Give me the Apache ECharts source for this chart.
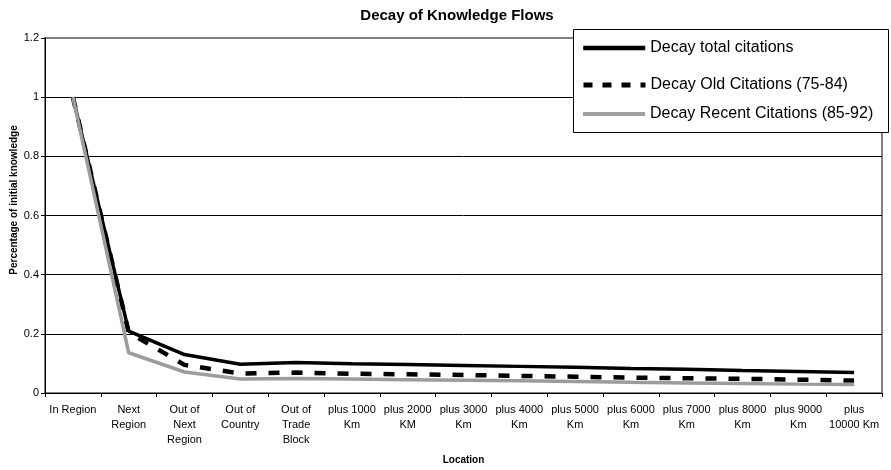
<!DOCTYPE html>
<html>
<head>
<meta charset="utf-8">
<script src="https://cdn.jsdelivr.net/npm/echarts@6/dist/echarts.min.js"></script>
<style>
html,body{margin:0;padding:0;background:#fff;}
#chart{width:891px;height:470px;}
</style>
</head>
<body>
<div id="chart"></div>
<script>
var categories = ["In Region", "Next\nRegion", "Out of\nNext\nRegion", "Out of\nCountry", "Out of\nTrade\nBlock",
  "plus 1000\nKm", "plus 2000\nKM", "plus 3000\nKm", "plus 4000\nKm", "plus 5000\nKm", "plus 6000\nKm",
  "plus 7000\nKm", "plus 8000\nKm", "plus 9000\nKm", "plus\n10000 Km"];
var totalCitations = [1, 0.209, 0.13, 0.097, 0.103, 0.099, 0.096, 0.093, 0.09, 0.087, 0.083, 0.08, 0.076, 0.073, 0.069];
var oldCitations = [1, 0.205, 0.095, 0.066, 0.069, 0.065, 0.063, 0.061, 0.058, 0.055, 0.052, 0.05, 0.048, 0.045, 0.042];
var recentCitations = [1, 0.136, 0.071, 0.047, 0.049, 0.047, 0.045, 0.043, 0.041, 0.039, 0.036, 0.034, 0.032, 0.03, 0.029];
var seriesNames = ["Decay total citations", "Decay Old Citations (75-84)", "Decay Recent Citations (85-92)"];
var yTicks = {min: 0, max: 1.2, interval: 0.2};

var FONT = "'Liberation Sans', Arial, sans-serif";
var chart = echarts.init(document.getElementById('chart'), null, {renderer: 'canvas'});

function legendFor(name, top, lineStyle) {
  return {
    data: [name], left: 581, top: top, orient: 'horizontal',
    itemWidth: 62, itemHeight: 16, padding: 0,
    itemStyle: {opacity: 0},
    lineStyle: lineStyle,
    textStyle: {fontFamily: FONT, fontSize: 16, color: '#000', lineHeight: 16},
    z: 6
  };
}

chart.setOption({
  animation: false,
  backgroundColor: '#fff',
  title: {
    text: 'Decay of Knowledge Flows', left: 452, top: 3, textAlign: 'center',
    textStyle: {fontFamily: FONT, fontSize: 15, fontWeight: 'bold', color: '#000'}
  },
  grid: {left: 45, top: 38, right: 9, bottom: 76, show: true, borderColor: '#808080', borderWidth: 2, backgroundColor: '#fff'},
  legend: [
    legendFor(seriesNames[0], 40, {color: '#000', width: 4.5}),
    legendFor(seriesNames[1], 77, {color: '#000', width: 5, type: [9, 10]}),
    legendFor(seriesNames[2], 106, {color: '#a0a0a0', width: 4})
  ],
  graphic: [
    {type: 'rect', shape: {x: 573.5, y: 29.5, width: 315, height: 103}, style: {fill: '#fff', stroke: '#000', lineWidth: 1}, z: 5},
    {type: 'text', x: 14, y: 200, rotation: Math.PI / 2,
     style: {text: 'Percentage of initial knowledge', fontFamily: FONT, fontSize: 10, fontWeight: 'bold', fill: '#000', align: 'center', verticalAlign: 'middle'}, z: 5}
  ],
  xAxis: {
    type: 'category', data: categories, boundaryGap: true,
    name: 'Location', nameLocation: 'middle', nameGap: 62,
    nameTextStyle: {fontFamily: FONT, fontSize: 10, fontWeight: 'bold', color: '#000'},
    axisLine: {lineStyle: {color: '#000', width: 1}},
    axisTick: {show: true, length: 4, alignWithLabel: false, lineStyle: {color: '#000'}},
    axisLabel: {interval: 0, fontFamily: FONT, fontSize: 11, lineHeight: 15, color: '#000', margin: 9},
    splitLine: {show: false}
  },
  yAxis: {
    type: 'value', min: yTicks.min, max: yTicks.max, interval: yTicks.interval,
    axisLine: {show: true, lineStyle: {color: '#000', width: 1}},
    axisTick: {show: true, length: 4, lineStyle: {color: '#000'}},
    axisLabel: {fontFamily: FONT, fontSize: 11, color: '#000', margin: 6},
    splitLine: {show: true, showMaxLine: false, lineStyle: {color: '#000', width: 1}}
  },
  series: [
    {name: seriesNames[0], type: 'line', data: totalCitations, symbol: 'none', z: 3,
     lineStyle: {color: '#000', width: 3.5}, itemStyle: {color: '#000'}},
    {name: seriesNames[1], type: 'line', data: oldCitations, symbol: 'none', z: 3,
     lineStyle: {color: '#000', width: 4.5, type: [11, 12]}, itemStyle: {color: '#000'}},
    {name: seriesNames[2], type: 'line', data: recentCitations, symbol: 'none', z: 4,
     lineStyle: {color: '#9c9c9c', width: 3.5}, itemStyle: {color: '#9c9c9c'}}
  ]
});
</script>
</body>
</html>
